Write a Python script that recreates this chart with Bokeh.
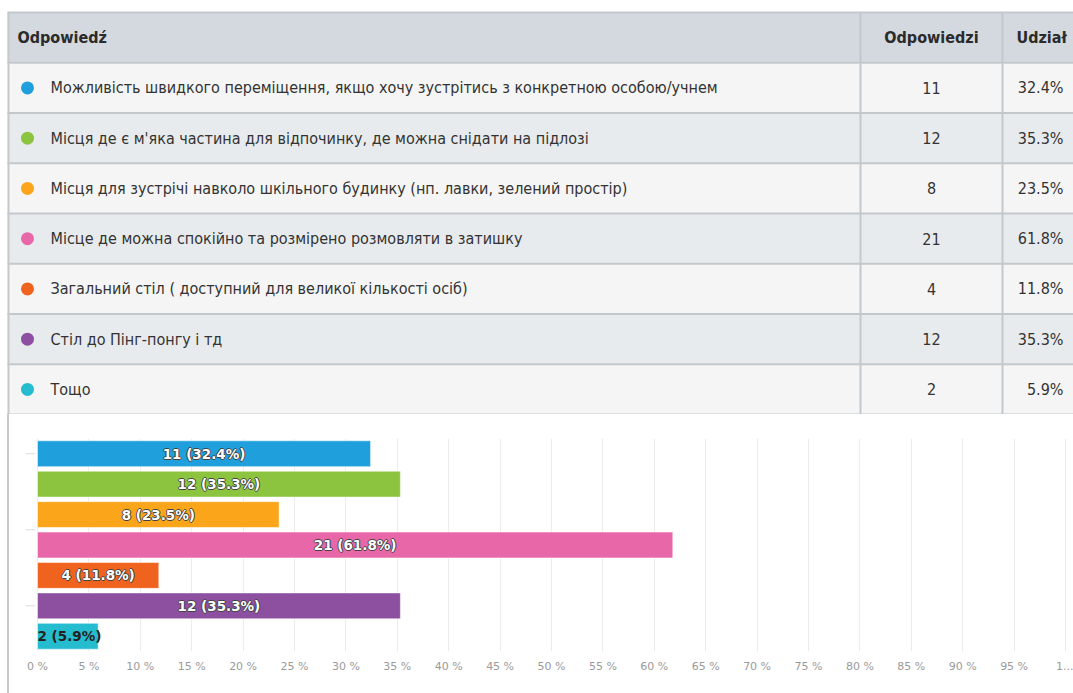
from bokeh.plotting import figure
from bokeh.models import Range1d, FixedTicker, ColumnDataSource, Div
from bokeh.layouts import column, row
from bokeh.core.properties import value
from bokeh.embed import file_html
from bokeh.resources import INLINE

# ---------------- data ----------------
answers = [
    "Можливість швидкого переміщення, якщо хочу зустрітись з конкретною особою/учнем",
    "Місця де є м'яка частина для відпочинку, де можна снідати на підлозі",
    "Місця для зустрічі навколо шкільного будинку (нп. лавки, зелений простір)",
    "Місце де можна спокійно та розмірено розмовляти в затишку",
    "Загальний стіл ( доступний для великої кількості осіб)",
    "Стіл до Пінг-понгу і тд",
    "Тощо",
]
counts = [11, 12, 8, 21, 4, 12, 2]
shares = [32.4, 35.3, 23.5, 61.8, 11.8, 35.3, 5.9]
colors = ["#1fa0dc", "#8cc43f", "#faa51a", "#e867a8", "#f0631f", "#8d4f9f", "#25bcd0"]
headers = ["Odpowiedź", "Odpowiedzi", "Udział"]
tick_values = list(range(0, 101, 5))
tick_labels = ["%d %%" % t for t in range(0, 100, 5)] + ["1..."]

TABLE_FONT = value("DejaVu Sans Condensed, DejaVu Sans, sans-serif")
CHART_FONT = value("DejaVu Sans")

n = len(answers)
rows = list(range(n))
row_mid = [i + 0.5 for i in rows]

W = 1073
BORDER = "#c8c8c8"
# ---------------- table ----------------
X0, X1 = 7, W
COL_A, COL_B = 860, 1002
t = figure(width=W, height=414, x_range=Range1d(0, W), y_range=Range1d(n, -1.239),
           output_backend="svg", toolbar_location=None,
           min_border=0, min_border_left=0, min_border_right=0,
           min_border_top=0, min_border_bottom=0)
t.axis.visible = False
t.grid.visible = False
t.outline_line_color = None
t.background_fill_color = "white"

# header background
t.quad(left=[X0], right=[X1], top=[-1], bottom=[0], fill_color="#d4d9df", line_color=None)
# row backgrounds
row_fill = ["#f5f5f5" if i % 2 == 0 else "#e8ebee" for i in rows]
t.quad(left=[X0] * n, right=[X1] * n, top=rows, bottom=[i + 1 for i in rows],
       fill_color=row_fill, line_color=None)
# horizontal lines
hy = list(range(-1, n + 1))
t.segment(x0=[X0] * len(hy), x1=[X1] * len(hy), y0=hy, y1=hy, line_color="#c3c8cd", line_width=2)
# vertical lines
t.segment(x0=[COL_A, COL_B], x1=[COL_A, COL_B], y0=[-1, -1], y1=[n, n],
          line_color="#c3c8cd", line_width=2)
# left container border
t.quad(left=[X0], right=[X0 + 2], top=[-1], bottom=[n + 1], fill_color=BORDER, line_color=None)

# header texts
t.text(x=[17], y=[-0.5], text=[headers[0]], text_font=TABLE_FONT, text_font_size="16px",
       text_font_style="bold", text_color="#2b2b2b", text_baseline="middle", text_align="left")
t.text(x=[(COL_A + COL_B) / 2], y=[-0.5], text=[headers[1]], text_font=TABLE_FONT,
       text_font_size="16px", text_font_style="bold", text_color="#2b2b2b",
       text_baseline="middle", text_align="center")
t.text(x=[1016], y=[-0.5], text=[headers[2]], text_font=TABLE_FONT, text_font_size="16px",
       text_font_style="bold", text_color="#2b2b2b", text_baseline="middle", text_align="left")

# dots
t.scatter(x=[27] * n, y=row_mid, size=13, fill_color=colors, line_color=None)
# answer texts
t.text(x=[50] * n, y=row_mid, text=answers, text_font=TABLE_FONT, text_font_size="16px",
       text_color="#333333", text_baseline="middle", text_align="left")
# counts
t.text(x=[(COL_A + COL_B) / 2] * n, y=row_mid, text=[str(c) for c in counts],
       text_font=TABLE_FONT, text_font_size="16px", text_color="#333333",
       text_baseline="middle", text_align="center")
# shares
t.text(x=[1063] * n, y=row_mid, text=["%.1f%%" % v for v in shares],
       text_font=TABLE_FONT, text_font_size="16px", text_color="#333333",
       text_baseline="middle", text_align="right")

# ---------------- left border strip beside the bar chart ----------------
SW = 10
BH = 279
strip = Div(text='<div style="margin-left:7px;width:2px;height:%dpx;background:%s"></div>' % (BH, BORDER),
            width=SW, height=BH, margin=0)

# ---------------- bar chart ----------------
PX = 10.28
XMIN = -(37 - SW) / PX
XMAX = 100 + 8 / PX
b = figure(width=W - SW, height=BH, x_range=Range1d(XMIN, XMAX), y_range=Range1d(n, 0),
           output_backend="svg", toolbar_location=None,
           min_border_left=0, min_border_right=0, min_border_top=24, min_border_bottom=42)
b.outline_line_color = None
b.yaxis.visible = False
b.ygrid.visible = False
b.xgrid.ticker = FixedTicker(ticks=tick_values)
b.xgrid.grid_line_color = "#ececec"
b.xaxis.ticker = FixedTicker(ticks=tick_values)
b.xaxis.major_label_overrides = {v: lab for v, lab in zip(tick_values, tick_labels)}
b.xaxis.axis_line_color = None
b.xaxis.major_tick_line_color = None
b.xaxis.minor_tick_line_color = None
b.xaxis.major_label_standoff = 2
b.xaxis.major_label_text_font = "DejaVu Sans"
b.xaxis.major_label_text_font_size = "11px"
b.xaxis.major_label_text_color = "#9a9a9a"

# small y-axis ticks
yt = [0.5, 3.0, 5.5]
b.segment(x0=[-1.15] * 3, x1=[-0.2] * 3, y0=yt, y1=yt, line_color="#dcdcdc", line_width=1)

b.hbar(y=row_mid, left=0, right=shares, height=0.85, fill_color=colors,
       line_color="#ffffff", line_alpha=0.5, line_width=1)

labels = ["%d (%.1f%%)" % (c, v) for c, v in zip(counts, shares)]
inside = [v >= 8 for v in shares]
in_src = ColumnDataSource(dict(
    x=[v / 2 for v, k in zip(shares, inside) if k],
    y=[m for m, k in zip(row_mid, inside) if k],
    text=[l for l, k in zip(labels, inside) if k]))
out_src = ColumnDataSource(dict(
    x=[0 for k in inside if not k],
    y=[m for m, k in zip(row_mid, inside) if not k],
    text=[l for l, k in zip(labels, inside) if not k]))

for dx, dy in [(-1, 0), (1, 0), (0, -1), (0, 1)]:
    b.text(x="x", y="y", text="text", source=in_src, x_offset=dx, y_offset=dy,
           text_font=CHART_FONT, text_font_size="13.5px", text_font_style="bold",
           text_color="#444444", text_align="center", text_baseline="middle")
b.text(x="x", y="y", text="text", source=in_src, text_font=CHART_FONT, text_font_size="13.5px",
       text_font_style="bold", text_color="#ffffff", text_align="center", text_baseline="middle")
b.text(x="x", y="y", text="text", source=out_src, text_font=CHART_FONT, text_font_size="13.5px",
       text_font_style="bold", text_color="#222222", text_align="left", text_baseline="middle")

layout = column(t, row(strip, b, spacing=0), spacing=0)
open("out.html", "w").write(file_html(layout, INLINE))
